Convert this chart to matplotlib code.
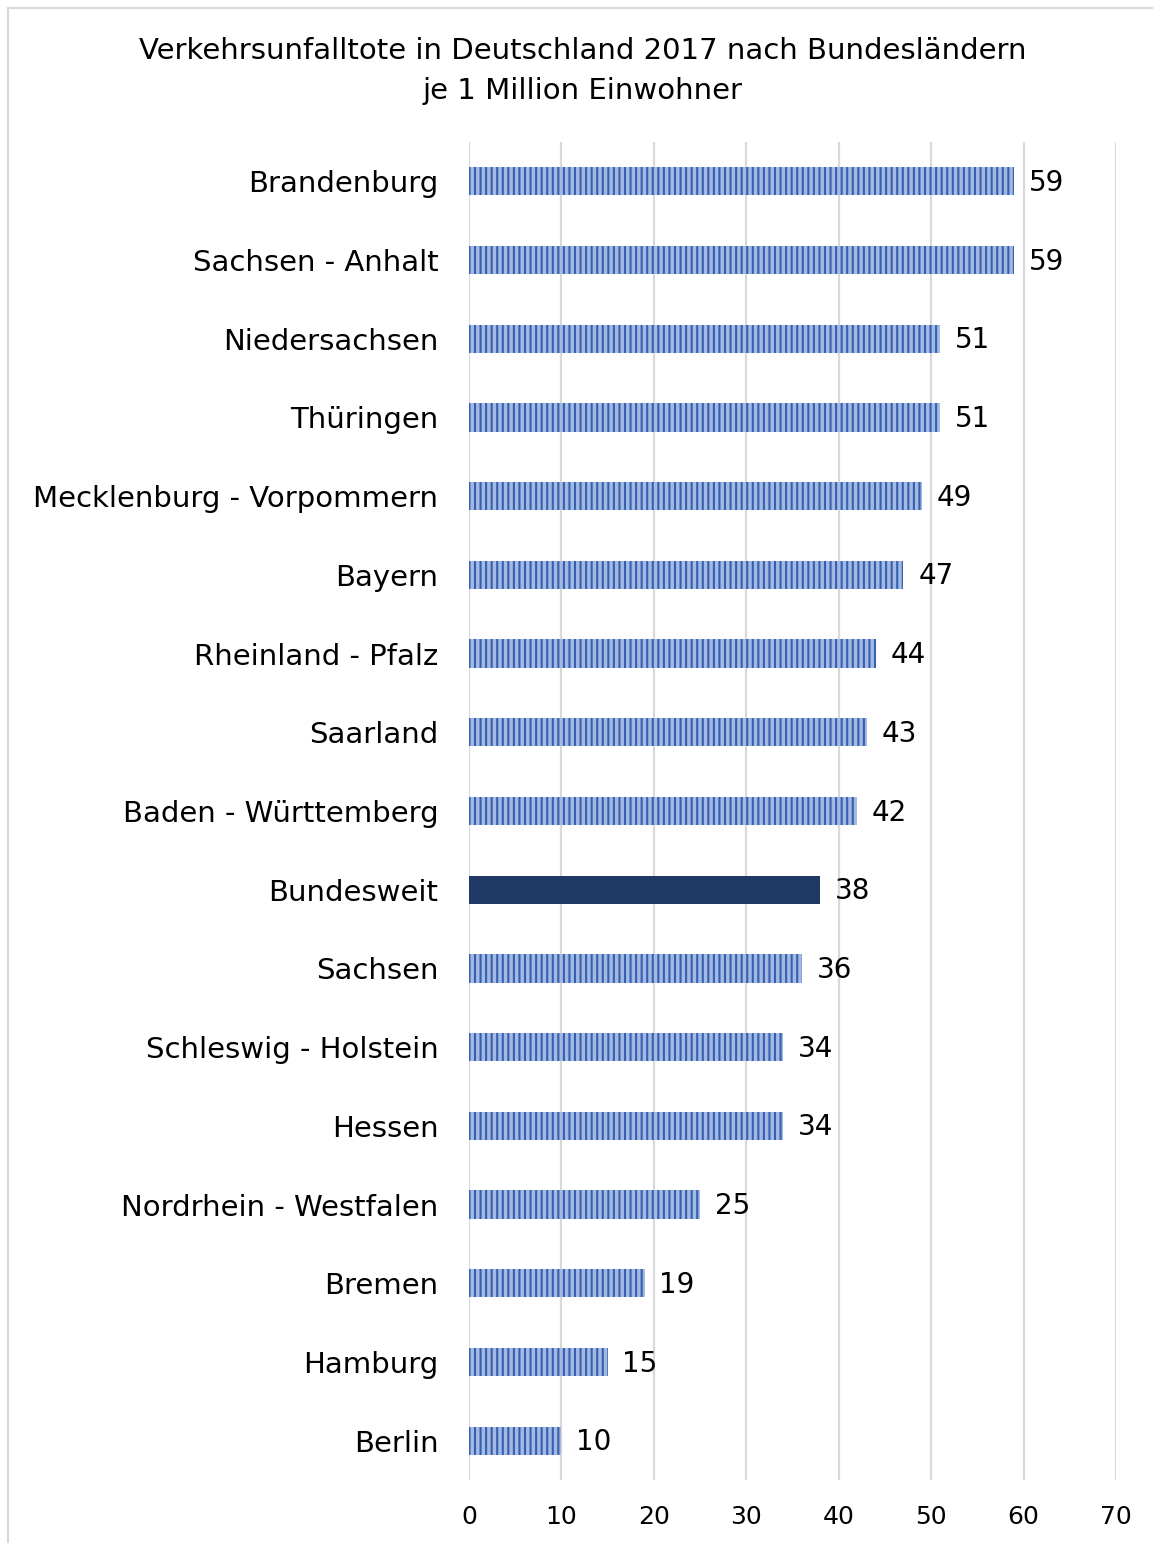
import matplotlib
matplotlib.use('Agg')
import matplotlib.pyplot as plt
from matplotlib.patches import Rectangle

laender = ['Brandenburg', 'Sachsen - Anhalt', 'Niedersachsen', 'Thüringen',
           'Mecklenburg - Vorpommern', 'Bayern', 'Rheinland - Pfalz', 'Saarland',
           'Baden - Württemberg', 'Bundesweit', 'Sachsen', 'Schleswig - Holstein',
           'Hessen', 'Nordrhein - Westfalen', 'Bremen', 'Hamburg', 'Berlin']
tote = [59, 59, 51, 51, 49, 47, 44, 43, 42, 38, 36, 34, 34, 25, 19, 15, 10]
x_ticks = [0, 10, 20, 30, 40, 50, 60, 70]

plt.rcParams['font.family'] = ['DejaVu Sans']
plt.rcParams['hatch.linewidth'] = 1.5

fig = plt.figure(figsize=(11.53, 15.43), dpi=100)
ax = fig.add_axes([0.4068, 0.0408, 0.5612, 0.8672])

# Rahmen um die Grafik
fig.patches.append(Rectangle((0.007, -0.01), 1.1, 1.0048, transform=fig.transFigure,
                             fill=False, edgecolor='#d9d9d9', linewidth=1.5))

y = list(range(len(laender)))
for i, (name, wert) in enumerate(zip(laender, tote)):
    if name == 'Bundesweit':
        ax.barh(i, wert, height=0.36, color='#203864', zorder=3)
    else:
        ax.barh(i, wert, height=0.36, color='#a3b9e3', edgecolor='#3560b0',
                hatch='|||', linewidth=0, zorder=3)
    ax.text(wert + 1.6, i + 0.02, str(wert), va='center', ha='left', fontsize=20, color='black')

ax.set_ylim(len(laender) - 0.5, -0.5)
ax.set_xlim(0, 70)
ax.set_yticks(y)
ax.set_yticklabels(laender, fontsize=21)
ax.set_xticks(x_ticks)
ax.set_xticklabels([str(t) for t in x_ticks], fontsize=18)
ax.tick_params(length=0)
ax.tick_params(axis='y', pad=22)
ax.tick_params(axis='x', pad=18)
ax.grid(axis='x', color='#d9d9d9', linewidth=1.6, zorder=0)
for s in ax.spines.values():
    s.set_visible(False)

fig.text(0.505, 0.967, 'Verkehrsunfalltote in Deutschland 2017 nach Bundesländern',
         ha='center', va='center', fontsize=21)
fig.text(0.505, 0.941, 'je 1 Million Einwohner', ha='center', va='center', fontsize=21)

fig.savefig('out.png', dpi=100)
